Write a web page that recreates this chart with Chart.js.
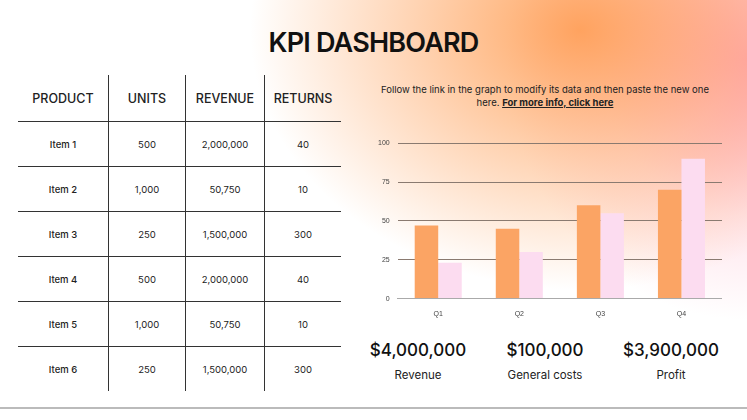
<!DOCTYPE html><html><head><meta charset="utf-8">
<script src="https://cdn.jsdelivr.net/npm/chart.js"></script>
<style>
body{margin:0;width:747px;height:420px;overflow:hidden;font-family:Inter,"Noto Sans",sans-serif;position:relative;
background:radial-gradient(ellipse 330px 260px at 580px 30px,rgba(255,150,70,0.85),rgba(255,175,115,0.55) 50%,rgba(255,255,255,0) 100%),
radial-gradient(ellipse 240px 260px at 747px 60px,rgba(255,140,190,0.85),rgba(255,180,200,0.35) 60%,rgba(255,255,255,0) 100%),#fff;}
.a{position:absolute}
h1{position:absolute;left:0;width:747px;top:26px;margin:0;text-align:center;font-size:27px;font-weight:600;letter-spacing:-0.8px;color:#111}
table{position:absolute;left:18px;top:75px;border-collapse:collapse;font-size:9.5px;color:#222}
td,th{text-align:center;border-left:1px solid #333;padding:0}
td:first-child,th:first-child{border-left:none}
th{font-size:12.5px;font-weight:500;height:46px;}
tr td{border-top:1px solid #333;height:44px}
.big{font-size:17px;font-weight:500;color:#111;text-align:center;width:130px}
.sm{font-size:11.5px;color:#222;text-align:center;width:130px}
</style></head><body>
<h1>KPI DASHBOARD</h1>
<table id="t"></table>
<div class="a" style="left:372px;top:83px;width:346px;text-align:center;font-size:9.5px;line-height:13px;color:#222">Follow the link in the graph to modify its data and then paste the new one here. <b style="text-decoration:underline">For more info, click here</b></div>
<div class="a" style="left:370px;top:131px;width:352px;height:190px"><canvas id="c"></canvas></div>
<div class="a big" style="left:353px;top:340px">$4,000,000</div>
<div class="a big" style="left:480px;top:340px">$100,000</div>
<div class="a big" style="left:606px;top:340px">$3,900,000</div>
<div class="a sm" style="left:353px;top:368px">Revenue</div>
<div class="a sm" style="left:480px;top:368px">General costs</div>
<div class="a sm" style="left:606px;top:368px">Profit</div>
<div class="a" style="left:0;top:407px;width:747px;height:2px;background:#bbb"></div>
<script>
const headers=["PRODUCT","UNITS","REVENUE","RETURNS"];
const products=["Item 1","Item 2","Item 3","Item 4","Item 5","Item 6"];
const units=["500","1,000","250","500","1,000","250"];
const revenue=["2,000,000","50,750","1,500,000","2,000,000","50,750","1,500,000"];
const returns=["40","10","300","40","10","300"];
const quarters=["Q1","Q2","Q3","Q4"];
const series1=[47,45,60,70];
const series2=[23,30,55,90];
const widths=[90,76,78,76];
let h='<tr>'+headers.map((x,i)=>`<th style="width:${widths[i]}px">${x}</th>`).join('')+'</tr>';
products.forEach((p,i)=>{h+=`<tr><td style="font-weight:500">${p}</td><td>${units[i]}</td><td>${revenue[i]}</td><td>${returns[i]}</td></tr>`;});
document.getElementById('t').innerHTML=h;
new Chart(document.getElementById('c'),{type:'bar',data:{labels:quarters,datasets:[
{data:series1,backgroundColor:'#fba464',categoryPercentage:0.58,barPercentage:1},
{data:series2,backgroundColor:'#fcdcf0',categoryPercentage:0.58,barPercentage:1}]},
options:{responsive:true,maintainAspectRatio:false,animation:false,plugins:{legend:{display:false},tooltip:{enabled:false}},
scales:{y:{min:0,max:100,ticks:{stepSize:25,font:{size:7},color:'#444',padding:8},grid:{color:'#8a7a70',drawTicks:false},border:{display:false}},
x:{ticks:{font:{size:7},color:'#444'},grid:{display:false},border:{color:'#aaa'}}}}});
</script></body></html>
